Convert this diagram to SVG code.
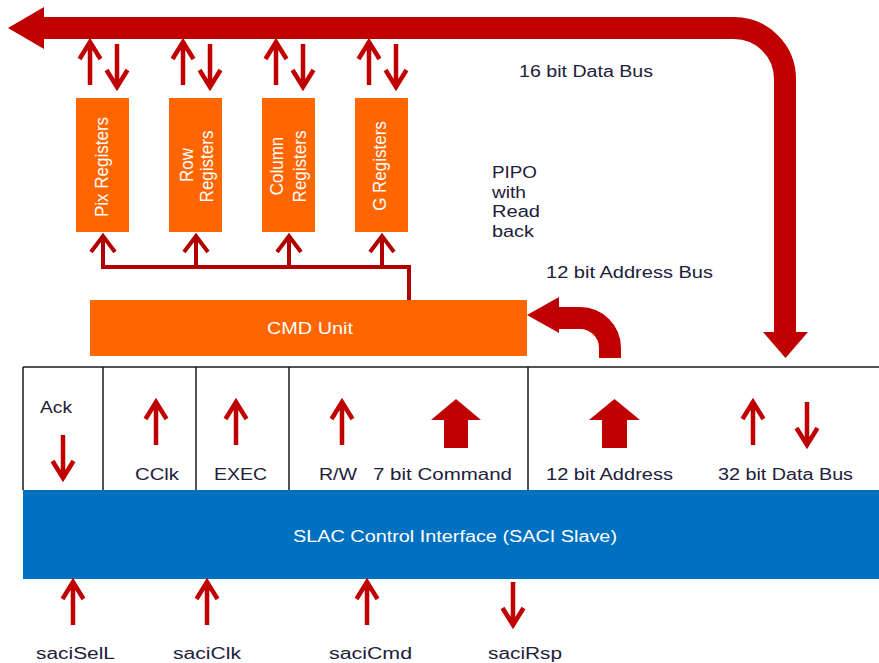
<svg xmlns="http://www.w3.org/2000/svg" xmlns:xlink="http://www.w3.org/1999/xlink" width="879" height="663" viewBox="0 0 879 663">
  <style>
    .reg { fill: #ff6600; }
    .wt { fill: #ffffff; font-family: "Liberation Sans", Arial, sans-serif; font-size: 16px; }
    .rt { fill: #ffffff; font-family: "Liberation Sans", Arial, sans-serif; font-size: 17px; text-anchor: middle; }
    .lbl { fill: #20203a; font-family: "Liberation Sans", Arial, sans-serif; font-size: 16px; }
    .bus { fill: none; stroke: #c00000; stroke-width: 22; }
    .busfill { fill: #c00000; }
    .thin { fill: none; stroke: #c00000; stroke-width: 4.5; stroke-linejoin: miter; }
    .feed { fill: none; stroke: #b00000; stroke-width: 4; }
    .grid { fill: none; stroke: #1a1a1a; stroke-width: 1.5; }
  </style>
  <defs>
    <!-- slim signal arrow, tip at origin pointing up -->
    <path id="arr" d="M0,2 V45 M-10.5,19 L0,2 L10.5,19"/>
  </defs>

  <rect width="879" height="663" fill="#ffffff"/>

  <!-- register bank (labels read bottom to top) -->
  <g id="pix-registers">
    <rect class="reg" x="76" y="98" width="53" height="134"/>
    <text class="rt" transform="translate(108,167) rotate(-90) scale(1,1.1)">Pix Registers</text>
  </g>
  <g id="row-registers">
    <rect class="reg" x="169" y="98" width="53" height="134"/>
    <text class="rt" transform="translate(193,165) rotate(-90) scale(1,1.1)">Row</text>
    <text class="rt" transform="translate(213,166.5) rotate(-90) scale(1,1.1)">Registers</text>
  </g>
  <g id="column-registers">
    <rect class="reg" x="262" y="98" width="53" height="134"/>
    <text class="rt" transform="translate(283,166) rotate(-90) scale(1,1.1)">Column</text>
    <text class="rt" transform="translate(306,166.5) rotate(-90) scale(1,1.1)">Registers</text>
  </g>
  <g id="g-registers">
    <rect class="reg" x="355" y="98" width="53" height="134"/>
    <text class="rt" transform="translate(386,166) rotate(-90) scale(1,1.1)">G Registers</text>
  </g>

  <!-- command unit -->
  <g id="cmd-unit">
    <rect class="reg" x="90" y="300" width="437" height="56"/>
    <text class="wt" x="267" y="334" textLength="86" lengthAdjust="spacingAndGlyphs">CMD Unit</text>
  </g>

  <!-- SACI slave signal table -->
  <g id="saci-table">
    <path class="grid" d="M23,367 H880 M23,367 V490 M103,367 V490 M196,367 V490 M289,367 V490 M528,367 V490"/>
    <text class="lbl" x="40" y="413" textLength="32" lengthAdjust="spacingAndGlyphs">Ack</text>
    <text class="lbl" x="135" y="480" textLength="44" lengthAdjust="spacingAndGlyphs">CClk</text>
    <text class="lbl" x="214" y="480" textLength="53" lengthAdjust="spacingAndGlyphs">EXEC</text>
    <text class="lbl" x="319" y="480" textLength="38" lengthAdjust="spacingAndGlyphs">R/W</text>
    <text class="lbl" x="373" y="480" textLength="139" lengthAdjust="spacingAndGlyphs">7 bit Command</text>
    <text class="lbl" x="546" y="480" textLength="127" lengthAdjust="spacingAndGlyphs">12 bit Address</text>
    <text class="lbl" x="718" y="480" textLength="135" lengthAdjust="spacingAndGlyphs">32 bit Data Bus</text>
  </g>

  <g id="saci-slave">
    <rect x="23" y="490" width="857" height="89" fill="#0070c0"/>
    <text class="wt" x="293" y="542" font-size="17.5" textLength="324" lengthAdjust="spacingAndGlyphs">SLAC Control Interface (SACI Slave)</text>
  </g>

  <!-- free labels -->
  <g id="labels">
    <text class="lbl" x="519" y="77" textLength="134" lengthAdjust="spacingAndGlyphs">16 bit Data Bus</text>
    <text class="lbl" x="492" y="178" textLength="45" lengthAdjust="spacingAndGlyphs">PIPO</text>
    <text class="lbl" x="492" y="198" textLength="34" lengthAdjust="spacingAndGlyphs">with</text>
    <text class="lbl" x="492" y="217" textLength="48" lengthAdjust="spacingAndGlyphs">Read</text>
    <text class="lbl" x="492" y="237" textLength="42" lengthAdjust="spacingAndGlyphs">back</text>
    <text class="lbl" x="546" y="278" textLength="167" lengthAdjust="spacingAndGlyphs">12 bit Address Bus</text>
    <text class="lbl" x="36" y="659" textLength="79" lengthAdjust="spacingAndGlyphs">saciSelL</text>
    <text class="lbl" x="173" y="659" textLength="68" lengthAdjust="spacingAndGlyphs">saciClk</text>
    <text class="lbl" x="329" y="659" textLength="83" lengthAdjust="spacingAndGlyphs">saciCmd</text>
    <text class="lbl" x="488" y="659" textLength="74" lengthAdjust="spacingAndGlyphs">saciRsp</text>
  </g>

  <g id="connectors">
    <!-- 16 bit data bus, wrapping down to the 32 bit data bus -->
    <path class="bus" d="M42,28 H734 A51,51 0 0 1 785,79 V334"/>
    <polygon class="busfill" points="8,28 44,7 44,49"/>
    <polygon class="busfill" points="763,332 808,332 785.5,358"/>

    <!-- 12 bit address bus into the command unit -->
    <path class="bus" d="M610,358 V348 A30,30 0 0 0 580,318 H556"/>
    <polygon class="busfill" points="527,315 559,297 559,333"/>

    <!-- register read/write pairs -->
    <g class="thin">
      <use xlink:href="#arr" transform="translate(90,40)"/>
      <use xlink:href="#arr" transform="translate(117,89) rotate(180)"/>
      <use xlink:href="#arr" transform="translate(183,40)"/>
      <use xlink:href="#arr" transform="translate(210,89) rotate(180)"/>
      <use xlink:href="#arr" transform="translate(276,40)"/>
      <use xlink:href="#arr" transform="translate(303,89) rotate(180)"/>
      <use xlink:href="#arr" transform="translate(369,40)"/>
      <use xlink:href="#arr" transform="translate(396,89) rotate(180)"/>
    </g>

    <!-- command unit select lines -->
    <path class="feed" d="M409,300 V267 H103 V236 M196,267 V236 M289,267 V236 M382,267 V236"/>
    <path class="feed" d="M91,252 L103,236 L115,252 M184,252 L196,236 L208,252 M277,252 L289,236 L301,252 M370,252 L382,236 L394,252"/>

    <!-- table signals -->
    <g class="thin">
      <use xlink:href="#arr" transform="translate(63,480) rotate(180)"/>
      <use xlink:href="#arr" transform="translate(156,400)"/>
      <use xlink:href="#arr" transform="translate(236,400)"/>
      <use xlink:href="#arr" transform="translate(342,400)"/>
      <use xlink:href="#arr" transform="translate(753,400)"/>
      <use xlink:href="#arr" transform="translate(807,447) rotate(180)"/>
    </g>
    <polygon class="busfill" points="444,448 444,420 431,420 456,399 481,420 468,420 468,448"/>
    <polygon class="busfill" points="602,448 602,420 589,420 614.5,399 640,420 627,420 627,448"/>

    <!-- external SACI pins -->
    <g class="thin">
      <use xlink:href="#arr" transform="translate(73,580)"/>
      <use xlink:href="#arr" transform="translate(207,580)"/>
      <use xlink:href="#arr" transform="translate(367,580)"/>
      <use xlink:href="#arr" transform="translate(513,627) rotate(180)"/>
    </g>
  </g>
</svg>
